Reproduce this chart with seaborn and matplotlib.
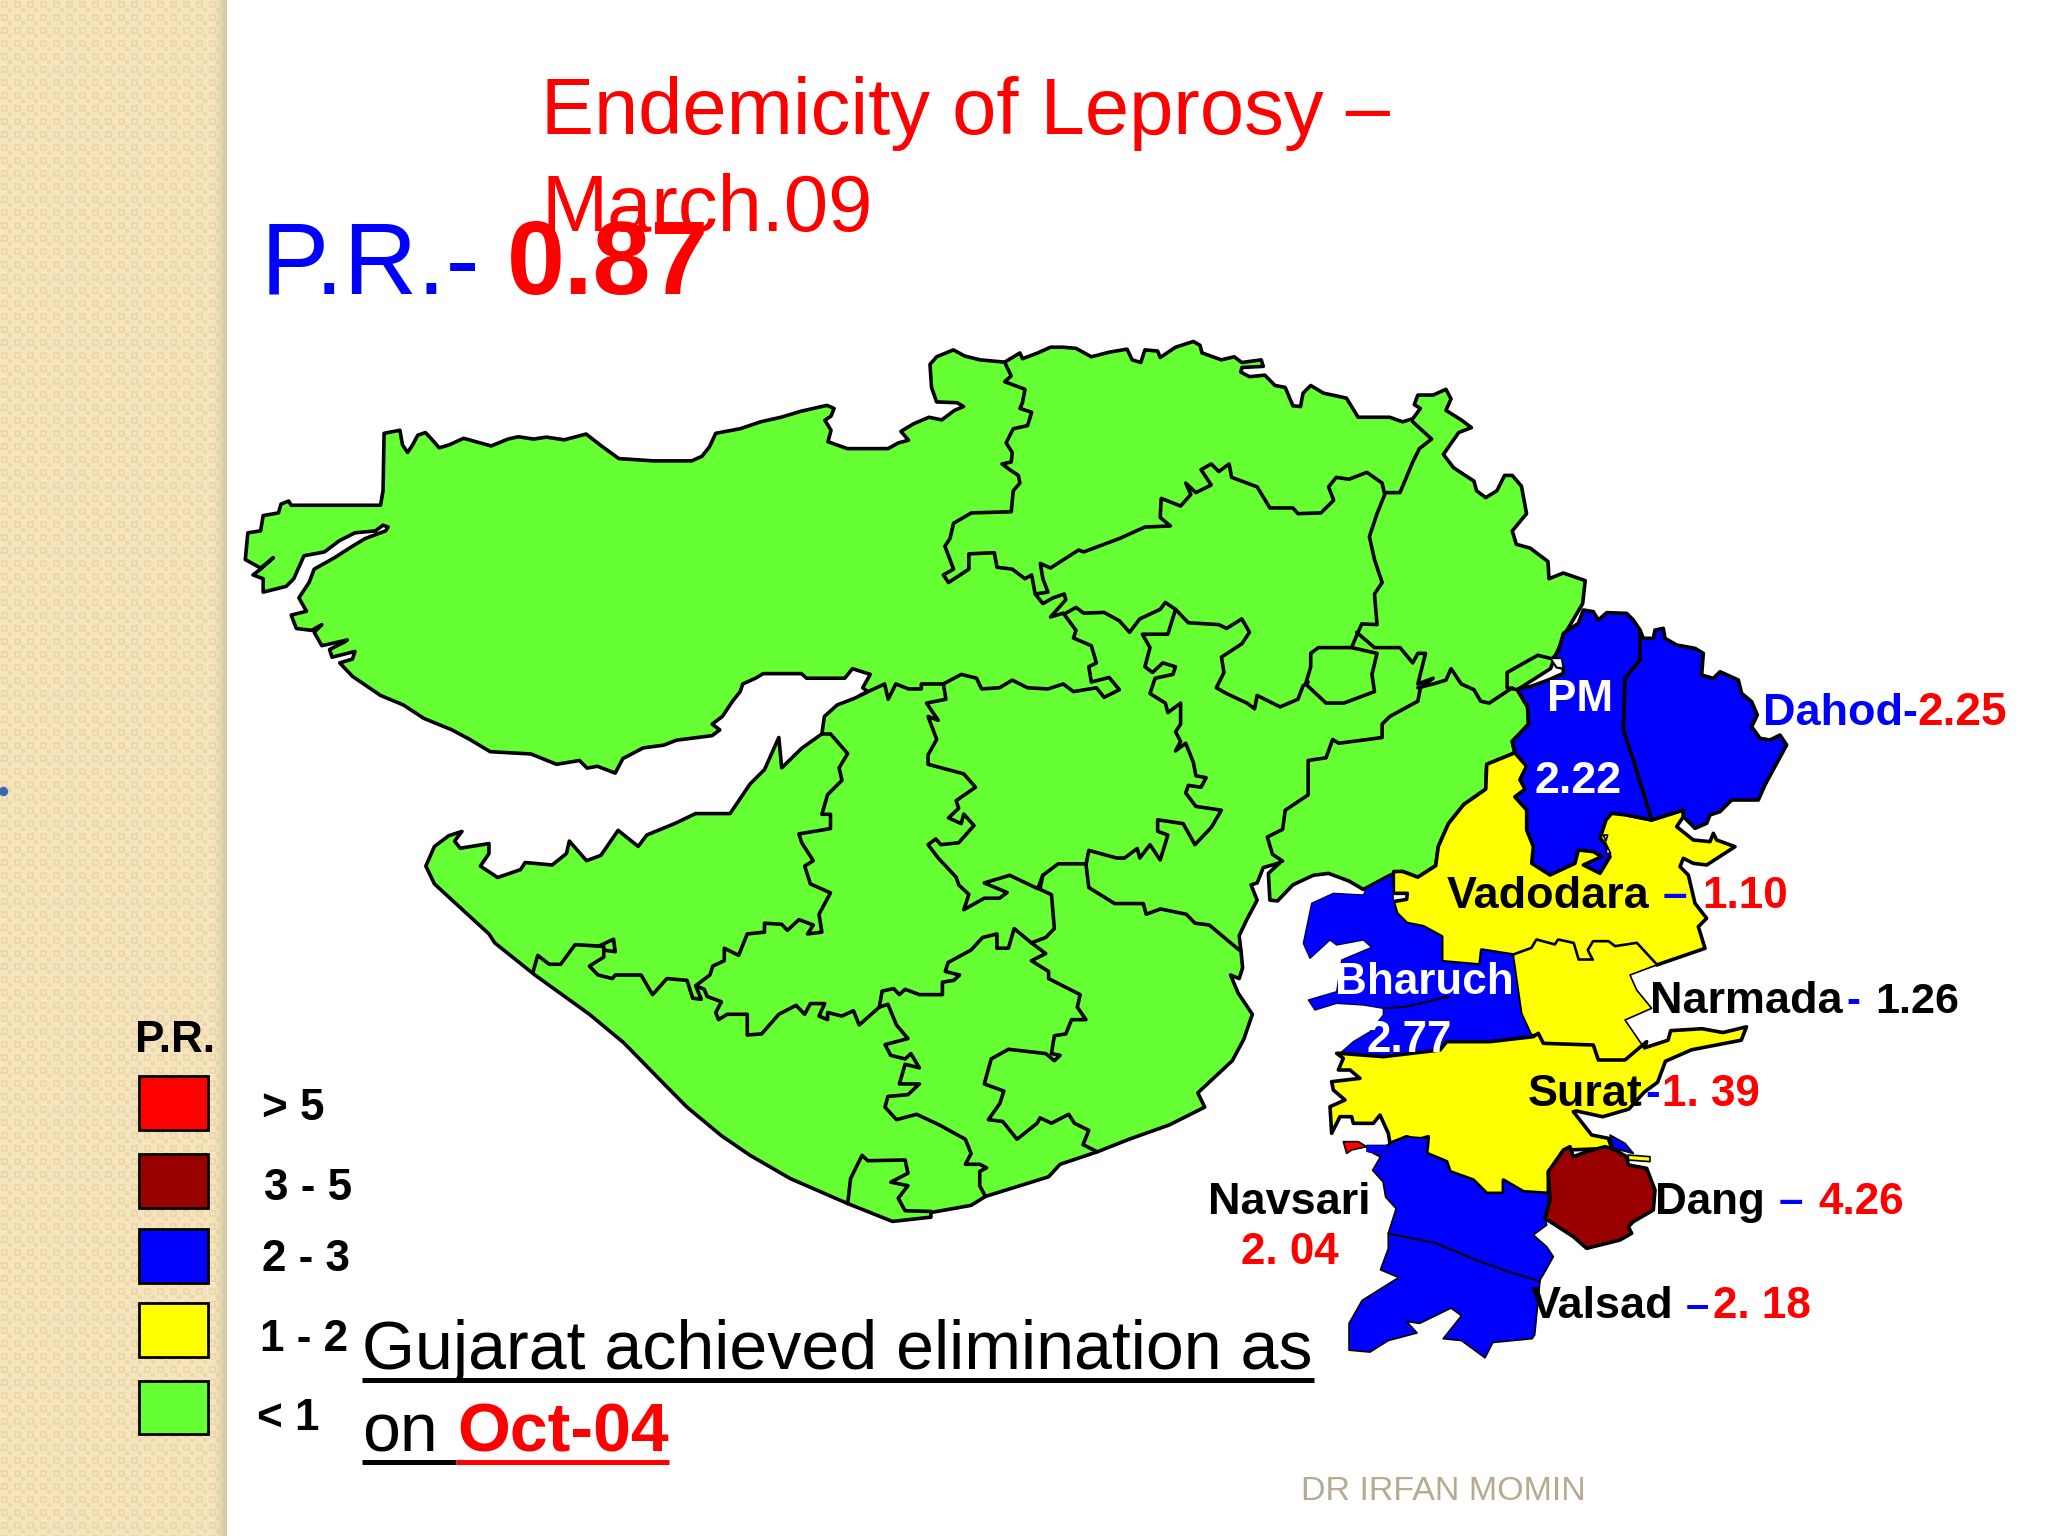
import numpy as np
import matplotlib
matplotlib.use("Agg")
import matplotlib.pyplot as plt
import seaborn as sns

# ---- data: what the slide says ----
title_lines = ["Endemicity of Leprosy \u2013", "March.09"]
state_pr = "0.87"
legend_title = "P.R."
legend_labels = ["> 5", "3 - 5", "2 - 3", "1 - 2", "< 1"]
district_names = ["PM", "Dahod", "Vadodara", "Bharuch", "Narmada", "Surat", "Navsari", "Dang", "Valsad"]
district_pr = ["2.22", "2.25", "1.10", "2.77", "1.26", "1. 39", "2. 04", "4.26", "2. 18"]

# ---- data: map outlines, each list in the pixels of one crop ----
# crop = x0, y0, width, height, size of the reading grid
CROP_A = (230, 330, 800, 600, 1568)
CROP_B = (900, 330, 800, 600, 1568)
CROP_C = (400, 700, 900, 560, 1568)
CROP_D = (1200, 780, 820, 600, 1568)
CROP_E = (1520, 590, 300, 300, 900)
CROP_F = (1300, 860, 420, 420, 1260)

kutch_north = [(120,458),(295,458),(300,420),(302,270),(333,262),(338,300),(348,320),(358,300),(368,275),(383,268),(395,285),(410,308),(430,300),(458,283),(490,295),(512,303),(545,285),(565,279),(595,285),(620,280),(655,287),(698,272),(730,305),(762,336),(830,342),(905,342),(925,330),(940,305),(952,270),(1000,258),(1040,240),(1080,228),(1120,212),(1170,197),(1184,205),(1178,225),(1166,236),(1178,262),(1172,292),(1210,310),(1290,310),(1310,295),(1330,288),(1315,265),(1340,245),(1370,228),(1395,235),(1420,210),(1438,200),(1425,190),(1385,188),(1375,150),(1372,90),(1385,70),(1418,52),(1440,68),(1470,78)]
north_east_border = [(205,84),(235,60),(240,75),(270,60),(295,45),(320,45),(345,48),(375,70),(410,58),(445,50),(455,78),(472,85),(480,52),(505,55),(510,72),(540,45),(575,30),(588,40),(592,60),(630,78),(655,70),(670,85),(708,78),(712,95),(670,98),(668,110),(685,122),(715,118),(735,145),(755,150),(770,198),(785,200),(790,165),(805,145),(830,165),(875,178),(898,228),(960,228),(985,240),(1005,232),(1020,205),(1008,195),(1015,170),(1045,170),(1070,155),(1080,180),(1070,210),(1100,235),(1120,255),(1095,268),(1065,325),(1085,360),(1125,395),(1130,420),(1148,438),(1170,420),(1185,380),(1200,380),(1218,408),(1228,480),(1200,525),(1208,560),(1235,570),(1270,605),(1272,650),(1300,635),(1343,655),(1338,715),(1305,790),(1285,850),(1275,885),(1210,940),(1230,985),(1232,1030),(1200,1075),(1205,1105),(1150,1135),(1148,1200),(1105,1240),(1075,1290),(1055,1350),(1050,1400),(1015,1430),(985,1415),(960,1425),(925,1450),(908,1462),(880,1440),(840,1420),(810,1425),(770,1450),(740,1492),(725,1490),(722,1420),(745,1392),(712,1405),(700,1445),(688,1450),(700,1490),(680,1540)]
saurashtra_coast = [(1462,660),(1465,700),(1468,750),(1462,780),(1447,770),(1460,820),(1485,880),(1470,950),(1450,1010),(1410,1070),(1390,1100),(1402,1140),(1340,1190),(1270,1230),(1215,1265),(1150,1300),(1130,1335),(1020,1390),(995,1415),(925,1435),(925,1448),(858,1460),(780,1410),(680,1340),(610,1275),(560,1220),(500,1140),(460,1075),(390,960),(330,880),(235,770),(165,680),(155,655),(60,515),(45,465),(60,410),(85,380),(108,368),(95,395),(105,415),(155,402),(155,430),(140,465),(170,497),(210,475),(218,455),(265,462),(290,430),(295,395),(325,450),(350,435),(380,365),(415,410),(430,378),(480,345),(515,318),(575,318),(610,235),(635,195),(660,105),(665,190),(700,135),(735,95)]
kutch_south = [(1165,1010),(1190,980),(1225,962),(1250,945),(1240,935),(1255,900),(1220,885),(1205,910),(1130,910),(1120,898),(1045,898),(1030,910),(1005,925),(1000,945),(985,970),(965,1010),(945,1030),(960,1045),(945,1060),(875,1072),(850,1085),(810,1092),(770,1120),(755,1158),(720,1140),(700,1145),(685,1125),(640,1135),(590,1108),(510,1102),(470,1070),(435,1045),(380,1015),(340,980),(295,955),(240,905),(215,870),(240,860),(245,840),(200,855),(195,835),(225,815),(230,810),(180,825),(165,790),(180,770),(160,785),(130,780),(120,745),(150,735),(135,700),(155,660),(165,625),(205,595),(240,565),(265,545),(305,525),(310,515),(300,510),(285,525),(245,530),(215,550),(185,580),(145,590),(125,650),(110,670),(65,685),(65,650),(45,640),(60,625),(85,595),(60,622),(30,600),(35,530),(60,525),(65,485),(95,478),(100,455),(115,447)]

# inner district borders of the green part
borders_b = [
    [(205,84),(218,120),(205,135),(245,155),(240,190),(235,205),(258,215),(250,250),(222,258),(208,295),(220,320),(218,345),(200,350),(215,365),(232,380),(235,400),(222,420),(218,475),(140,478),(105,505),(98,545),(88,565),(105,625),(85,640),(95,660),(135,625),(135,585),(185,582),(190,620),(220,625),(245,650),(258,640),(265,690),(280,715),(300,700),(322,690),(325,705),(295,750),(320,740),(345,785),(340,805),(375,825),(385,870),(370,880),(375,920),(410,908),(430,940),(400,960),(385,935),(340,945),(320,925),(290,938),(250,935),(220,915),(195,935),(160,938),(150,910),(120,900),(85,925),(90,965),(52,975),(75,1020),(55,1010),(72,1070),(55,1110),(55,1135),(125,1160),(148,1195),(110,1230),(115,1250),(95,1275),(120,1290),(125,1265),(145,1295),(115,1340),(80,1345),(70,1330),(55,1345),(75,1380),(110,1430),(115,1450),(135,1475),(125,1515),(165,1485),(195,1485),(210,1470),(165,1445),(215,1425),(270,1460),(280,1425),(310,1395),(365,1395),(370,1360),(425,1380),(440,1380),(465,1355),(470,1380),(490,1345),(510,1385),(525,1320),(505,1310),(505,1280),(555,1290),(578,1345),(610,1300),(630,1255),(580,1245),(560,1210),(565,1190),(590,1195),(600,1170),(580,1165),(575,1130),(560,1080),(540,1100),(550,1075),(540,1050),(550,1030),(550,975),(525,1000),(520,975),(490,950),(500,910),(535,900),(540,880),(515,870),(495,895),(480,880),(490,830),(475,795),(525,795),(540,730),(520,712),(510,730),(470,755),(450,790),(430,760),(400,738),(360,740),(345,725),(325,740)],
    [(540,730),(565,765),(625,770),(640,780),(670,755),(685,790),(670,820),(630,855),(635,895),(620,935),(640,950),(680,975),(695,990),(700,955),(730,975),(745,985),(780,965),(790,930),(800,920)],
    [(265,690),(290,685),(280,650),(275,610),(295,622),(350,575),(360,580),(430,545),(480,515),(530,512),(510,490),(512,440),(550,460),(570,430),(560,400),(580,425),(610,405),(590,365),(610,350),(625,370),(645,350),(650,385),(700,410),(725,465),(770,465),(780,480),(825,478),(850,445),(840,410),(855,385),(880,390),(915,372),(945,400),(950,430),(935,480),(920,540),(930,600),(945,660),(930,690),(935,770),(905,768),(885,830)],
    [(950,425),(980,425),(1005,345),(1018,310),(1042,285),(1005,240)],
    [(805,845),(820,830),(885,830),(935,845),(925,900),(930,945),(870,975),(835,975),(795,925),(805,880),(805,845)],
    [(895,790),(930,830),(980,830),(1005,870),(1015,845),(1030,845),(1015,925),(1045,910),(1020,935),(1015,970),(960,1010),(945,1030),(945,1065),(860,1080),(848,1070),(835,1118),(800,1125),(800,1215),(755,1255),(750,1305),(720,1325),(730,1370),(750,1388)],
    [(1280,860),(1250,850),(1190,895),(1190,935),(1210,940)],
    [(1200,935),(1155,975),(1138,970),(1125,940),(1100,925),(1080,885),(1070,915),(1045,925),(1015,935)],
]
borders_c = [
    [(1195,458),(1200,525),(1245,570),(1295,570),(1300,600),(1325,585),(1370,600),(1385,625),(1410,630),(1462,700)],
    [(1120,490),(1115,530),(1135,545),(1140,640),(1125,665),(1100,680),(1125,710),(1100,730),(1130,760),(1130,780),(1185,825),(1180,860),(1195,895),(1170,895),(1160,935),(1140,940),(1135,990),(1150,995),(1140,1010),(1125,990),(1060,978),(1030,1005),(1018,1075),(1052,1095),(1045,1130),(1025,1175),(1050,1180),(1075,1230),(1110,1185),(1115,1170),(1135,1185),(1165,1160),(1175,1185),(1200,1205),(1190,1245),(1215,1265)],
    [(1100,680),(1070,640),(1060,695),(1040,695),(1040,655),(1015,665),(995,700),(955,735),(950,760),(975,770),(965,785),(945,790),(945,825),(905,825),(880,810),(870,825),(860,808),(840,815),(835,860)],
    [(835,860),(850,852),(865,910),(885,948),(845,965),(855,995),(880,1005),(890,990),(905,1030),(880,1020),(870,1075),(905,1075),(885,1105),(850,1110),(845,1140),(865,1175),(900,1160),(940,1190),(985,1230),(995,1270),(985,1300),(1010,1300),(1022,1310),(1010,1320),(1010,1360),(1020,1390)],
    [(835,860),(800,910),(790,870),(770,885),(745,875),(745,895),(730,885),(740,850),(715,850),(705,880),(690,855),(660,880),(630,935),(605,938),(605,880),(570,880),(555,895),(550,875),(560,845),(535,830),(530,810),(515,800),(525,838),(510,835),(500,785),(465,780),(440,825),(420,770),(375,770),(370,780),(345,770),(330,745),(355,720),(355,690),(305,685),(280,740),(260,740),(240,715),(232,760)],
    [(355,700),(375,705),(372,670),(345,690)],
    [(515,800),(540,770),(545,745),(565,730),(565,695),(590,715),(605,655),(635,650),(635,625),(665,628),(675,645),(695,615),(720,630),(710,655),(735,650),(730,600),(750,540),(715,515),(705,465),(720,450),(700,400),(695,375),(750,360),(750,320),(735,320),(745,265),(770,225),(765,190),(780,150),(750,95),(735,95)],
    [(780,1410),(785,1340),(805,1275),(815,1290),(880,1288),(885,1325),(855,1350),(885,1360),(868,1395),(880,1430),(925,1432)],
]
border_saurashtra_top = [(1235,955),(1283,925),(1290,965),(1305,925),(1330,938),(1355,938),(1355,925),(1398,925)]

vadodara_west = [(1228,1110),(1205,1105),(1150,1135),(1148,1200),(1105,1240),(1075,1290),(1055,1350),(1050,1400),(1015,1430),(985,1415),(968,1415)]
vadodara_south = [(280,40),(280,100),(322,100),(320,118),(280,125),(290,160),(320,190),(370,200),(425,230),(425,305),(540,315),(545,270),(640,285),(695,265),(710,240),(765,255),(775,240),(820,250),(835,300),(880,300),(865,270),(880,245),(925,245),(945,260),(1010,250),(1070,315),(1215,265),(1195,200),(1220,175),(1185,130),(1165,45)]
vadodara_east = [(480,830),(490,805),(520,820),(560,825),(645,770),(590,750),(580,730),(570,755),(520,750),(470,710),(490,680),(490,660),(395,690),(320,675)]

pm_dahod_east = [(190,60),(220,65),(235,90),(260,68),(320,70),(340,90),(360,120),(370,145),(400,145),(405,120),(430,115),(435,145),(470,165),(525,175),(550,190),(545,255),(580,265),(600,245),(655,270),(665,310),(695,335),(712,375),(695,410),(720,445),(750,450),(780,435),(800,465),(770,520),(735,585),(715,630),(635,630),(600,665),(570,675),(560,700),(525,715),(490,680),(490,660),(395,690),(320,675),(275,670),(258,690),(240,745),(255,760),(270,800),(240,850),(190,825),(245,800),(220,785),(175,780),(165,820),(90,855),(35,820),(40,770),(20,720),(20,660)]
pm_west = [(1205,1220),(1225,1200),(1215,1175),(1228,1140),(1205,1105),(1200,1075),(1232,1030),(1230,985),(1210,940)]
pm_north_west = [(0,295),(30,290),(85,270),(130,250),(130,235),(110,230),(98,205),(115,185),(130,130),(175,100)]
dahod_border = [(360,120),(360,210),(315,265),(310,420),(340,510),(395,690)]
white_specks = [[(92,205),(125,205),(130,235),(110,232)], [(250,735),(263,735),(258,752)], [(262,770),(272,790),(258,790)]]

bharuch = [(200,85),(275,45),(280,120),(290,160),(320,190),(370,200),(425,230),(425,305),(540,315),(545,270),(640,285),(665,460),(695,525),(570,545),(440,545),(420,570),(250,590),(120,580),(160,545),(210,515),(250,465),(250,445),(190,435),(110,430),(45,450),(25,420),(110,395),(125,300),(215,262),(190,240),(110,255),(90,240),(30,295),(10,250),(35,130),(100,100),(190,105)]
bharuch_river = [(250,445),(320,440),(445,410)]
narmada = [(640,285),(695,265),(710,240),(765,255),(775,240),(820,250),(835,300),(880,300),(865,270),(880,245),(925,245),(945,260),(1010,250),(1070,315),(990,345),(1010,390),(1055,445),(975,480),(1030,560),(975,600),(895,600),(880,555),(730,550),(715,520),(695,525),(665,460)]
surat_north = [(120,580),(250,590),(420,570),(440,545),(570,545),(700,530),(715,520),(730,550),(880,555),(895,600),(975,600),(1040,545)]
surat_east = [(850,700),(895,680),(900,655),(960,650),(1000,660),(1045,645),(1035,680),(940,705),(890,735),(875,790),(850,815),(820,860),(770,880),(720,865)]
surat_south = [(820,755),(875,825),(925,835),(935,865),(800,870),(745,935),(745,1000),(670,995),(610,960),(610,1000),(560,1000),(520,960),(450,935),(440,905),(380,880),(385,830),(350,840),(320,830),(270,850),(265,820),(240,765),(220,790),(160,790),(155,770),(120,770),(95,820),(90,740),(135,720),(100,690),(95,665),(180,655),(150,630),(115,630),(130,595),(110,580)]
navsari_valsad_north = [(220,880),(270,850),(320,830),(385,835),(380,880),(440,905),(450,935),(520,960),(560,1000),(610,1000),(610,960),(670,995),(745,1000),(745,1040),(735,1070),(740,1095),(700,1125),(740,1160),(760,1190),(735,1235),(720,1260)]
navsari_valsad_south = [(650,1310),(640,1450),(635,1460),(560,1470),(545,1510),(500,1465),(465,1460),(500,1400),(480,1380),(420,1420),(395,1415),(415,1445),(360,1465),(325,1495),(285,1490),(285,1420),(310,1360),(380,1300),(345,1280),(360,1225),(360,1185),(375,1120),(355,1090),(350,1050),(330,1020),(345,985)]
navsari_border = [(360,1185),(450,1210),(520,1250),(590,1285),(650,1310)]
dang = [(745,935),(790,870),(810,860),(820,890),(860,875),(915,860),(945,870),(980,890),(985,915),(1040,925),(1065,990),(1060,1050),(1000,1085),(985,1100),(995,1120),(960,1140),(860,1165),(820,1130),(735,1075),(750,1020)]
dang_blue = [(930,825),(975,850),(1000,880),(940,865)]
dang_yellow = [(985,885),(1050,890),(1050,905),(985,900)]
red_bit = [(130,845),(175,845),(200,860),(155,870),(140,880)]
blue_bit = [(200,855),(270,855),(240,885),(200,875)]


def to_px(points, crop):
    x0, y0, w, h, size = crop
    return [(x0 + a * w / size, y0 + b * h / size) for a, b in points]


def fill(points, color, lw=2.6, edge="black", z=2):
    xs, ys = zip(*points)
    ax.fill(xs, ys, facecolor=color, edgecolor=edge, linewidth=lw, joinstyle="round", zorder=z)


def line(points, lw=2.6, z=3, color="black"):
    xs, ys = zip(*points)
    l = sns.lineplot(x=list(xs), y=list(ys), sort=False, estimator=None, color=color, linewidth=lw, ax=ax, legend=False)
    l.lines[-1].set_zorder(z)
    l.lines[-1].set_solid_joinstyle("round")


def txt(x, y, s, px, color="black", bold=True):
    ax.text(x, y, s, fontsize=px * 0.72, color=color, ha="left", va="baseline",
            fontweight="bold" if bold else "normal", zorder=6)


sns.set_theme(style="white")
plt.rcParams["font.family"] = ["Liberation Sans", "DejaVu Sans"]

GREEN, YELLOW, BLUE, MAROON, RED = "#66FF33", "#FFFF00", "#0000FF", "#990000", "#FF0000"

fig = plt.figure(figsize=(20.48, 15.36), dpi=100)
ax = fig.add_axes([0, 0, 1, 1])
ax.set_facecolor("white")

# left strip of the slide, woven beige pattern
tile = np.zeros((13, 13))
tile[1:8, 1:8] = 1
tile[3:6, 3:6] = 0
tile[8:12, 8:12] = 1
pattern = np.tile(tile, (119, 18))[:1536, :227]
base = np.array([246, 228, 190]) / 255
dark = np.array([236, 215, 170]) / 255
strip = base + (dark - base) * pattern[..., None]
for i in range(12):
    strip[:, 215 + i] = strip[:, 215 + i] * (1 - (i + 1) / 14) + np.array([205, 198, 160]) / 255 * (i + 1) / 14
ax.imshow(strip, extent=(0, 227, 1536, 0), aspect="auto", interpolation="bilinear", zorder=0)
ax.scatter([3], [791], s=45, color="#3A66B0", zorder=1, linewidths=0)

# green part, one outline plus inner borders
outline = (to_px(kutch_north, CROP_A) + to_px(north_east_border, CROP_B)
           + to_px(saurashtra_coast, CROP_C) + to_px(kutch_south, CROP_A))
fill(outline, GREEN)
for b in borders_b:
    line(to_px(b, CROP_B))
for b in borders_c:
    line(to_px(b, CROP_C))
line(to_px(border_saurashtra_top, CROP_A))

# districts with a higher rate
vadodara = to_px(vadodara_west, CROP_B) + to_px(vadodara_south, CROP_F) + to_px(vadodara_east, CROP_E)
fill(vadodara, YELLOW, z=3)
pm_dahod = to_px(pm_dahod_east, CROP_E) + to_px(pm_west, CROP_B) + to_px(pm_north_west, CROP_E)
fill(pm_dahod, BLUE, z=4)
line(to_px(dahod_border, CROP_E), z=4.1)
for s in white_specks:
    fill(to_px(s, CROP_E), "white", lw=1.2, z=4.1)

fill(to_px(bharuch, CROP_F), BLUE, lw=1.0, edge="#000066", z=3)
line(to_px(bharuch_river, CROP_F), lw=1.5, z=3.1)
fill(to_px(narmada, CROP_F), YELLOW, lw=1.2, z=3.2)
surat = to_px(surat_north, CROP_F) + to_px(surat_east, CROP_D) + to_px(surat_south, CROP_F)
fill(surat, YELLOW, z=3.3)
navsari_valsad = to_px(navsari_valsad_north, CROP_F) + to_px(navsari_valsad_south, CROP_D)
fill(navsari_valsad, BLUE, lw=1.2, z=3.4)
line(to_px(navsari_border, CROP_D), lw=1.5, z=3.5)
fill(to_px(dang, CROP_F), MAROON, z=3.6)
fill(to_px(dang_blue, CROP_F), BLUE, lw=1.2, z=3.5)
fill(to_px(dang_yellow, CROP_F), YELLOW, lw=1.2, z=3.5)
fill(to_px(red_bit, CROP_F), RED, lw=1.2, z=3.5)
fill(to_px(blue_bit, CROP_F), BLUE, lw=0.5, z=3.5)

# legend
for (top, bot), c in zip([(1076, 1130), (1154, 1208), (1229, 1283), (1303, 1357), (1381, 1434)],
                         [RED, MAROON, BLUE, YELLOW, GREEN]):
    ax.fill([139, 208, 208, 139], [top, top, bot, bot], facecolor=c, edgecolor="black", linewidth=2, zorder=2)
txt(135, 1052, legend_title, 44)
for (x, y), lab in zip([(262, 1120), (264, 1200), (262, 1271), (260, 1351), (257, 1430)], legend_labels):
    txt(x, y, lab, 44)

# titles
txt(541, 134, title_lines[0], 79.5, RED, bold=False)
txt(541, 231, title_lines[1], 79.5, RED, bold=False)
txt(261, 294, "P.R.-", 102, BLUE, bold=False)
txt(507, 294, state_pr, 104, RED)

# district labels
pr = dict(zip(district_names, district_pr))
txt(1547, 711, district_names[0], 44, "white")
txt(1535, 793, pr["PM"], 45, "white")
txt(1763, 725, district_names[1] + "-", 45, BLUE)
txt(1917, 725, pr["Dahod"], 46, RED)
txt(1447, 908, "Vadodara", 45)
txt(1663, 908, "\u2013", 44, BLUE)
txt(1702, 908, pr["Vadodara"], 44, RED)
txt(1335, 994, "Bharuch", 44, "white")
txt(1366, 1052, pr["Bharuch"], 44, "white")
txt(1650, 1013, "Narmada", 45)
txt(1846, 1013, "-", 42, BLUE)
txt(1875, 1013, pr["Narmada"], 43)
txt(1528, 1106, "Surat", 45)
txt(1645, 1106, "-", 44, BLUE)
txt(1662, 1106, pr["Surat"], 44, RED)
txt(1208, 1214, "Navsari", 45)
txt(1241, 1264, pr["Navsari"], 44, RED)
txt(1655, 1214, "Dang", 44)
txt(1779, 1214, "\u2013", 44, BLUE)
txt(1818, 1214, pr["Dang"], 44, RED)
txt(1531, 1318, "Valsad", 45)
txt(1686, 1318, "\u2013", 42, BLUE)
txt(1713, 1318, pr["Valsad"], 44, RED)

# bottom statement with its underlines
txt(362, 1369, "Gujarat achieved elimination as", 68.2, bold=False)
txt(362, 1452, "on", 68, bold=False)
txt(457, 1452, "Oct-04", 68, RED)
ax.plot([362, 1314], [1380, 1380], color="black", lw=3.6, solid_capstyle="butt", zorder=6)
ax.plot([362, 456], [1462, 1462], color="black", lw=3.6, solid_capstyle="butt", zorder=6)
ax.plot([456, 669], [1462, 1462], color=RED, lw=3.6, solid_capstyle="butt", zorder=6)

txt(1301, 1500, "DR IRFAN MOMIN", 34, "#B5AB90", bold=False)

ax.set_xlim(0, 2048)
ax.set_ylim(1536, 0)
ax.axis("off")
fig.savefig("out.png", dpi=100)
